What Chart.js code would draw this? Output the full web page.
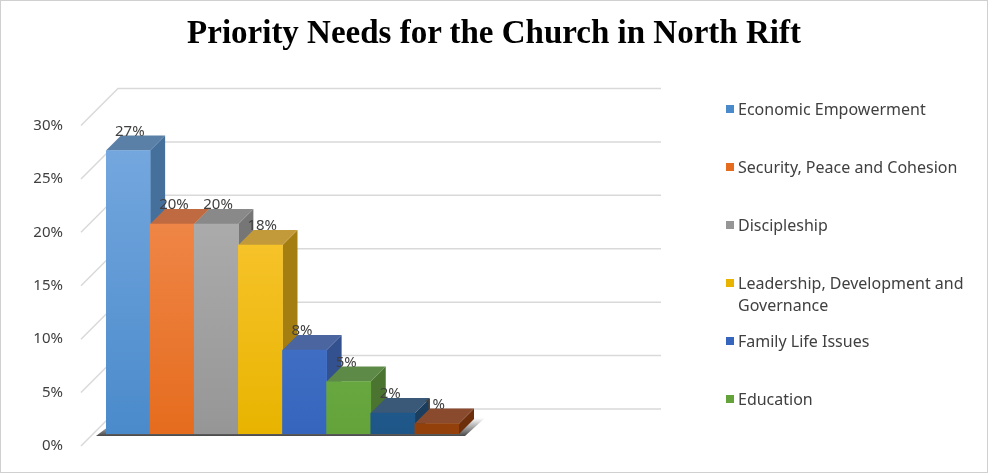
<!DOCTYPE html>
<html>
<head>
<meta charset="utf-8">
<script src="https://cdn.jsdelivr.net/npm/chart.js@4"></script>
<style>
  body { margin: 0; background: #fff; }
  #wrap { position: relative; width: 988px; height: 473px; box-sizing: border-box; border: 1px solid #d0d0d0; }
  #title { position: absolute; top: 13px; left: 0; width: 100%; text-align: center;
    font: bold 33px "Liberation Serif", serif; color: #000; }
  #legend { position: absolute; left: 725px; top: 0; font: 16px "Noto Sans", sans-serif; color: #404040; }
  .li { position: absolute; left: 0; width: 250px; padding-left: 12px; line-height: 22px; }
  .li span { position: absolute; left: 0; top: 7px; width: 8px; height: 8px; }
  canvas { position: absolute; left: 0; top: 0; }
</style>
</head>
<body>
<div id="wrap">
  <canvas id="priorityChart" width="988" height="473"></canvas>
  <div id="title">Priority Needs for the Church in North Rift</div>
  <div id="legend"></div>
</div>
<script>
const categories = ['Economic Empowerment', 'Security, Peace and Cohesion', 'Discipleship',
  'Leadership, Development and Governance', 'Family Life Issues', 'Education', 'Other 1', 'Other 2'];
const shares = [0.27, 0.20, 0.20, 0.18, 0.08, 0.05, 0.02, 0.01];
const tickValues = [0, 0.05, 0.10, 0.15, 0.20, 0.25, 0.30];
const legendCount = 6;

const frontColors = [['#78aae0', '#4a8acb'], ['#f4925a', '#e56c1e'], ['#b5b5b5', '#969696'], ['#ffcc44', '#e8b400'],
  ['#5a85d4', '#3565bd'], ['#82bd5c', '#63a33a'], ['#2f6ca3', '#1e5688'], ['#b0531a', '#93400b']];
const topColors = ['#5b80a8', '#bf6a40', '#898989', '#c39a3a', '#4a65a0', '#5d8a47', '#3a5878', '#8a4a2e'];
const sideColors = ['#46709c', '#a85a2e', '#767676', '#a57e12', '#33518f', '#4b7431', '#1c3e5e', '#6d2f0b'];

const legendTops = [97, 155, 213, 271, 329, 387];
const legendEl = document.getElementById('legend');
for (let i = 0; i < legendCount; i++) {
  const d = document.createElement('div');
  d.className = 'li';
  d.style.top = legendTops[i] + 'px';
  d.innerHTML = '<span style="background:' + frontColors[i][1] + '"></span>' + categories[i];
  legendEl.appendChild(d);
}

const DX = 15, DY = -15;

const threeD = {
  id: 'threeD',
  beforeDatasetsDraw(chart) {
    const ctx = chart.ctx;
    const y = chart.scales.y;
    const base = y.getPixelForValue(0);
    ctx.save();
    // axis labels and 3D grid walls
    ctx.font = '15px "Noto Sans", sans-serif';
    ctx.fillStyle = '#404040';
    ctx.textAlign = 'right';
    ctx.textBaseline = 'middle';
    ctx.strokeStyle = '#d9d9d9';
    ctx.lineWidth = 1.5;
    tickValues.forEach(v => {
      const ly = 445 + (y.getPixelForValue(v) - base) * (320 / 314.5);
      ctx.fillText(Math.round(v * 100) + '%', 62, ly);
      ctx.beginPath();
      ctx.moveTo(80, ly);
      ctx.lineTo(117, ly - 37);
      ctx.lineTo(660, ly - 37);
      ctx.stroke();
    });
    // floor shadow
    const meta = chart.getDatasetMeta(0);
    const x0 = meta.data[0].x - meta.data[0].width / 2;
    const last = meta.data[meta.data.length - 1];
    const x1 = last.x + last.width / 2;
    const g = ctx.createLinearGradient(0, base - 16, 0, base + 3);
    g.addColorStop(0, 'rgba(60,60,60,0.0)');
    g.addColorStop(1, 'rgba(40,40,40,0.9)');
    ctx.fillStyle = g;
    ctx.beginPath();
    ctx.moveTo(x0 - 10, base + 2);
    ctx.lineTo(x1 + 6, base + 2);
    ctx.lineTo(x1 + DX + 12, base + DY - 2);
    ctx.lineTo(x0 + DX, base + DY - 2);
    ctx.closePath();
    ctx.fill();
    // side and top faces, drawn behind the fronts
    meta.data.forEach((bar, i) => {
      const l = bar.x - bar.width / 2, r = bar.x + bar.width / 2;
      const t = bar.y, b = bar.base;
      ctx.fillStyle = sideColors[i];
      ctx.beginPath();
      ctx.moveTo(r, t); ctx.lineTo(r + DX, t + DY); ctx.lineTo(r + DX, b + DY); ctx.lineTo(r, b);
      ctx.closePath(); ctx.fill();
      ctx.fillStyle = topColors[i];
      ctx.beginPath();
      ctx.moveTo(l, t); ctx.lineTo(l + DX, t + DY); ctx.lineTo(r + DX, t + DY); ctx.lineTo(r, t);
      ctx.closePath(); ctx.fill();
    });
    ctx.restore();
  },
  afterDatasetsDraw(chart) {
    const ctx = chart.ctx;
    const meta = chart.getDatasetMeta(0);
    ctx.save();
    ctx.font = '15px "Noto Sans", sans-serif';
    ctx.fillStyle = '#404040';
    ctx.textAlign = 'left';
    ctx.textBaseline = 'middle';
    meta.data.forEach((bar, i) => {
      ctx.fillText(Math.round(shares[i] * 100) + '%', bar.x - bar.width / 2 + 9, bar.y - 19);
    });
    ctx.restore();
  }
};

const ctx = document.getElementById('priorityChart').getContext('2d');
new Chart(ctx, {
  type: 'bar',
  data: {
    labels: categories,
    datasets: [{
      data: shares,
      backgroundColor: c => {
        const area = c.chart.chartArea;
        if (!area) return frontColors[c.dataIndex][1];
        const g = c.chart.ctx.createLinearGradient(0, area.top, 0, area.bottom);
        g.addColorStop(0, frontColors[c.dataIndex][0]);
        g.addColorStop(1, frontColors[c.dataIndex][1]);
        return g;
      },
      borderWidth: 0,
      categoryPercentage: 1,
      barPercentage: 1
    }]
  },
  options: {
    responsive: false,
    animation: false,
    devicePixelRatio: 1,
    layout: { padding: { left: 105, right: 530, top: 118, bottom: 40 } },
    plugins: { legend: { display: false }, tooltip: { enabled: false } },
    scales: {
      x: { display: false },
      y: { display: false, min: 0, max: 0.3 }
    }
  },
  plugins: [threeD]
});
</script>
</body>
</html>
